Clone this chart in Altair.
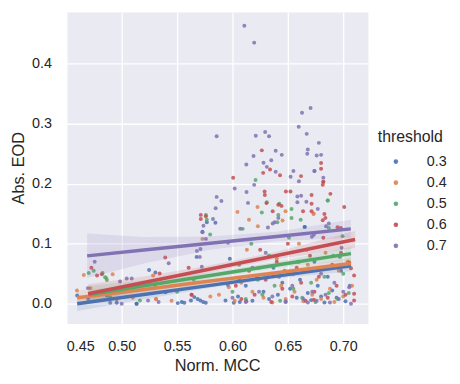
import altair as alt
import pandas as pd

thresholds = ["0.3", "0.4", "0.5", "0.6", "0.7"]
palette = ["#4C72B0", "#DD8452", "#55A868", "#C44E52", "#8172B3"]

# ---- scatter points (Norm. MCC, Abs. EOD) per threshold ----
mcc_03 = [0.4598, 0.4702, 0.4866, 0.4955, 0.5134, 0.5134, 0.5247, 0.5304, 0.5396, 0.5506,
          0.5542, 0.5565, 0.5625, 0.5655, 0.5685, 0.571, 0.5735, 0.5759, 0.5676, 0.5729,
          0.5768, 0.5846, 0.5937, 0.5976, 0.6012, 0.6066, 0.605, 0.612, 0.618, 0.622,
          0.628, 0.633, 0.637, 0.641, 0.645, 0.648, 0.652, 0.655, 0.658, 0.661,
          0.6652, 0.6652, 0.668, 0.671, 0.674, 0.677, 0.68, 0.683, 0.686, 0.69,
          0.694, 0.698, 0.702, 0.706]
eod_03 = [0.0137, 0.011, 0.0137, 0.0016, 0.0, 0.0, 0.056, 0.052, 0.019, 0.001,
          0.003, 0.0016, 0.0055, 0.011, 0.008, 0.0055, 0.003, 0.0016, 0.078, 0.12,
          0.1357, 0.135, 0.0055, 0.075, 0.0016, 0.003, 0.012, 0.03, 0.005, 0.045,
          0.02, 0.008, 0.06, 0.015, 0.035, 0.003, 0.025, 0.05, 0.01, 0.04,
          0.128, 0.128, 0.018, 0.006, 0.07, 0.03, 0.012, 0.002, 0.045, 0.022,
          0.01, 0.055, 0.004, 0.03]

mcc_04 = [0.4596, 0.4658, 0.4717, 0.486, 0.4918, 0.5283, 0.531, 0.531, 0.5878, 0.5967,
          0.5729, 0.6045, 0.6149, 0.6226, 0.6229, 0.6452, 0.6479, 0.6732, 0.6732, 0.602,
          0.608, 0.613, 0.618, 0.624, 0.628, 0.632, 0.636, 0.64, 0.644, 0.648,
          0.652, 0.656, 0.66, 0.664, 0.668, 0.672, 0.676, 0.68, 0.684, 0.688,
          0.692, 0.696, 0.70, 0.704, 0.708, 0.51, 0.545, 0.58]
eod_04 = [0.022, 0.048, 0.026, 0.043, 0.049, 0.047, 0.008, 0.008, 0.015, 0.0275,
          0.108, 0.153, 0.14, 0.161, 0.129, 0.1385, 0.154, 0.15, 0.15, 0.005,
          0.035, 0.09, 0.02, 0.06, 0.01, 0.045, 0.002, 0.075, 0.03, 0.008,
          0.05, 0.02, 0.1, 0.004, 0.065, 0.015, 0.04, 0.008, 0.085, 0.025,
          0.003, 0.055, 0.012, 0.07, 0.03, 0.01, 0.005, 0.012]

mcc_05 = [0.4702, 0.4747, 0.4827, 0.485, 0.4866, 0.4896, 0.5164, 0.576, 0.5768, 0.5798,
          0.6092, 0.6208, 0.6265, 0.631, 0.6405, 0.6414, 0.6423, 0.6533, 0.6533, 0.6616,
          0.686, 0.686, 0.687, 0.6994, 0.60, 0.606, 0.612, 0.617, 0.623, 0.627,
          0.633, 0.638, 0.643, 0.647, 0.651, 0.655, 0.659, 0.663, 0.667, 0.671,
          0.675, 0.679, 0.683, 0.687, 0.691, 0.695, 0.70, 0.705, 0.55, 0.565, 0.53]
eod_05 = [0.051, 0.055, 0.051, 0.044, 0.0396, 0.011, 0.0055, 0.148, 0.14, 0.1154,
          0.1247, 0.206, 0.152, 0.169, 0.1357, 0.148, 0.1665, 0.1577, 0.1428, 0.14,
          0.172, 0.172, 0.126, 0.1126, 0.02, 0.065, 0.008, 0.1, 0.04, 0.015,
          0.08, 0.03, 0.005, 0.055, 0.11, 0.025, 0.07, 0.01, 0.09, 0.035,
          0.003, 0.06, 0.045, 0.018, 0.08, 0.008, 0.05, 0.018, 0.02, 0.04, 0.03]

mcc_06 = [0.682, 0.682, 0.680, 0.680, 0.6265, 0.6339, 0.6277, 0.6429, 0.6006, 0.6619,
          0.6815, 0.629, 0.6482, 0.6524, 0.6292, 0.6714, 0.6884, 0.6307, 0.6414, 0.6443,
          0.6714, 0.6363, 0.6637, 0.6714, 0.683, 0.6839, 0.6815, 0.5714, 0.5714, 0.576,
          0.7009, 0.6949, 0.6979, 0.5393, 0.5604, 0.4726, 0.4777, 0.482, 0.5342, 0.5631,
          0.5631, 0.4955, 0.7098, 0.7098, 0.7098, 0.707, 0.7054, 0.6125, 0.6735, 0.603,
          0.608, 0.615, 0.62, 0.625, 0.63, 0.635, 0.64, 0.645, 0.65, 0.654,
          0.658, 0.662, 0.666, 0.67, 0.674, 0.678, 0.682, 0.686, 0.69, 0.694,
          0.698, 0.702]
eod_06 = [0.203, 0.203, 0.2346, 0.225, 0.2555, 0.2236, 0.218, 0.214, 0.210, 0.2126,
          0.198, 0.187, 0.187, 0.187, 0.181, 0.181, 0.183, 0.1676, 0.165, 0.163,
          0.1665, 0.154, 0.154, 0.154, 0.1495, 0.143, 0.139, 0.148, 0.141, 0.1456,
          0.161, 0.1275, 0.126, 0.077, 0.060, 0.060, 0.047, 0.049, 0.0505, 0.015,
          0.015, 0.008, 0.047, 0.0165, 0.0055, 0.059, 0.0687, 0.004, 0.0066, 0.03,
          0.008, 0.055, 0.015, 0.09, 0.04, 0.003, 0.07, 0.025, 0.1, 0.012,
          0.06, 0.035, 0.005, 0.08, 0.02, 0.045, 0.11, 0.01, 0.065, 0.03,
          0.085, 0.015]

mcc_07 = [0.6107, 0.6196, 0.5857, 0.6705, 0.6628, 0.6598, 0.667, 0.621, 0.6295, 0.633,
          0.668, 0.678, 0.6675, 0.676, 0.680, 0.619, 0.628, 0.635, 0.639, 0.6445,
          0.6125, 0.631, 0.639, 0.674, 0.674, 0.655, 0.6525, 0.660, 0.682, 0.602,
          0.6127, 0.6196, 0.5857, 0.590, 0.614, 0.6586, 0.662, 0.6667, 0.6586, 0.677,
          0.5848, 0.5824, 0.5738, 0.5729, 0.576, 0.5711, 0.5679, 0.5705, 0.5723, 0.596,
          0.632, 0.6363, 0.638, 0.6414, 0.607, 0.6845, 0.687, 0.6717, 0.6735, 0.6985,
          0.697, 0.7054, 0.707, 0.4756, 0.4985, 0.5045, 0.509, 0.4896, 0.50, 0.5238,
          0.5333, 0.4694, 0.4696, 0.5958, 0.5424, 0.60, 0.606, 0.612, 0.618, 0.624,
          0.63, 0.636, 0.642, 0.648, 0.654, 0.66, 0.664, 0.668, 0.672, 0.676,
          0.68, 0.684, 0.688, 0.692, 0.696, 0.70]
eod_07 = [0.463, 0.435, 0.279, 0.326, 0.318, 0.295, 0.283, 0.280, 0.286, 0.279,
          0.257, 0.268, 0.250, 0.247, 0.248, 0.246, 0.235, 0.239, 0.255, 0.248,
          0.232, 0.228, 0.220, 0.221, 0.221, 0.221, 0.2115, 0.204, 0.210, 0.192,
          0.186, 0.198, 0.178, 0.171, 0.168, 0.1786, 0.180, 0.170, 0.169, 0.158,
          0.159, 0.141, 0.130, 0.119, 0.108, 0.091, 0.088, 0.078, 0.0615, 0.1016,
          0.127, 0.1335, 0.1357, 0.143, 0.125, 0.129, 0.1335, 0.1115, 0.115, 0.0934,
          0.078, 0.0275, 0.0, 0.070, 0.037, 0.042, 0.042, 0.0016, 0.0, 0.0055,
          0.003, 0.026, 0.008, 0.031, 0.0675, 0.01, 0.04, 0.003, 0.06, 0.02,
          0.085, 0.012, 0.045, 0.004, 0.03, 0.07, 0.008, 0.002, 0.02, 0.005,
          0.05, 0.015, 0.002, 0.035, 0.008, 0.02]

# ---- fitted regression lines with 95% CI bands ----
fit_x_03 = [0.4598, 0.52, 0.58, 0.64, 0.707]
fit_y_03 = [0.0, 0.0153, 0.0306, 0.046, 0.063]
fit_lo_03 = [-0.012, 0.0073, 0.0266, 0.042, 0.054]
fit_hi_03 = [0.012, 0.0233, 0.0346, 0.050, 0.072]

fit_x_04 = [0.4598, 0.52, 0.58, 0.64, 0.707]
fit_y_04 = [0.0099, 0.0238, 0.0377, 0.0515, 0.067]
fit_lo_04 = [-0.002, 0.0158, 0.0337, 0.0475, 0.058]
fit_hi_04 = [0.022, 0.0318, 0.0417, 0.0555, 0.076]

fit_x_05 = [0.4702, 0.52, 0.58, 0.64, 0.707]
fit_y_05 = [0.0154, 0.0299, 0.0471, 0.0644, 0.0835]
fit_lo_05 = [0.0014, 0.0209, 0.0421, 0.0594, 0.0725]
fit_hi_05 = [0.0294, 0.0389, 0.0521, 0.0694, 0.0945]

fit_x_06 = [0.4696, 0.52, 0.58, 0.64, 0.7107]
fit_y_06 = [0.0165, 0.0354, 0.0579, 0.0804, 0.107]
fit_lo_06 = [0.0005, 0.0254, 0.0519, 0.0744, 0.093]
fit_hi_06 = [0.0325, 0.0454, 0.0639, 0.0864, 0.121]

fit_x_07 = [0.4688, 0.52, 0.58, 0.64, 0.7068]
fit_y_07 = [0.0797, 0.0894, 0.1007, 0.112, 0.1247]
fit_lo_07 = [0.043, 0.067, 0.090, 0.104, 0.110]
fit_hi_07 = [0.117, 0.111, 0.112, 0.120, 0.140]

points = pd.concat([
    pd.DataFrame({"mcc": m, "eod": e, "threshold": t})
    for m, e, t in [(mcc_03, eod_03, "0.3"), (mcc_04, eod_04, "0.4"), (mcc_05, eod_05, "0.5"),
                    (mcc_06, eod_06, "0.6"), (mcc_07, eod_07, "0.7")]
], ignore_index=True)

fits = pd.concat([
    pd.DataFrame({"mcc": x, "eod": y, "lo": lo, "hi": hi, "threshold": t})
    for x, y, lo, hi, t in [
        (fit_x_03, fit_y_03, fit_lo_03, fit_hi_03, "0.3"),
        (fit_x_04, fit_y_04, fit_lo_04, fit_hi_04, "0.4"),
        (fit_x_05, fit_y_05, fit_lo_05, fit_hi_05, "0.5"),
        (fit_x_06, fit_y_06, fit_lo_06, fit_hi_06, "0.6"),
        (fit_x_07, fit_y_07, fit_lo_07, fit_hi_07, "0.7"),
    ]
], ignore_index=True)

xscale = alt.Scale(domain=[0.45, 0.7223], nice=False, zero=False)
yscale = alt.Scale(domain=[-0.033, 0.486], nice=False, zero=False)
cscale = alt.Scale(domain=thresholds, range=palette)

xaxis = alt.Axis(title="Norm. MCC", values=[0.45, 0.5, 0.55, 0.6, 0.65, 0.7], format=".2f")
yaxis = alt.Axis(title="Abs. EOD", values=[0.0, 0.1, 0.2, 0.3, 0.4], format=".1f")

scatter = alt.Chart(points).mark_circle(size=16, opacity=0.85).encode(
    x=alt.X("mcc:Q", scale=xscale, axis=xaxis),
    y=alt.Y("eod:Q", scale=yscale, axis=yaxis),
    color=alt.Color("threshold:N", scale=cscale, legend=alt.Legend(
        title="threshold", orient="none", legendX=315, legendY=118,
        symbolType="circle", symbolSize=10, symbolOffset=11, labelOffset=24,
        rowPadding=6.3, titlePadding=10, padding=0, symbolOpacity=0.9)),
)

band = alt.Chart(fits).mark_area(opacity=0.15).encode(
    x=alt.X("mcc:Q", scale=xscale),
    y=alt.Y("lo:Q", scale=yscale),
    y2="hi:Q",
    color=alt.Color("threshold:N", scale=cscale, legend=None),
)

line = alt.Chart(fits).mark_line(strokeWidth=3.5).encode(
    x=alt.X("mcc:Q", scale=xscale),
    y=alt.Y("eod:Q", scale=yscale),
    color=alt.Color("threshold:N", scale=cscale, legend=None),
)

chart = alt.layer(scatter, band, line).properties(
    width=305, height=315,
    autosize=alt.AutoSizeParams(type="none"),
    padding={"left": 59, "top": 2, "right": 85, "bottom": 50},
).configure_view(
    fill="#EAEAF2", stroke="transparent"
).configure_axis(
    grid=True, gridColor="white", gridWidth=1.3, domain=False, ticks=False,
    labelFont="Liberation Sans", titleFont="Liberation Sans",
    labelFontSize=14.5, titleFontSize=16.5, labelColor="#262626", titleColor="#262626",
    titleFontWeight="normal",
).configure_axisX(
    labelPadding=16, titlePadding=5
).configure_axisY(
    labelPadding=15, titlePadding=5
).configure_legend(
    labelFont="Liberation Sans", titleFont="Liberation Sans",
    labelFontSize=14.5, titleFontSize=16, titleFontWeight="normal",
    labelColor="#262626", titleColor="#262626",
)

chart.save("out.html", embed_options={"renderer": "svg", "actions": False})
